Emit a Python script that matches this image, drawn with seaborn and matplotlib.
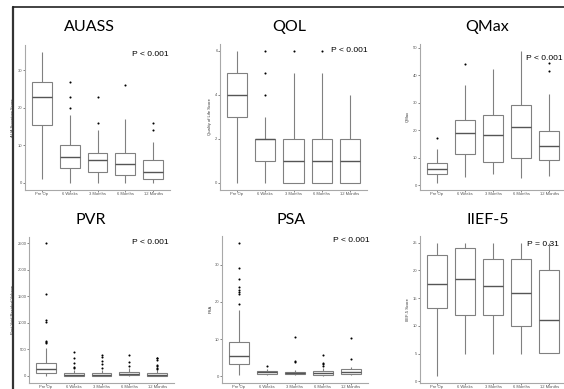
import numpy as np
import pandas as pd
import matplotlib
matplotlib.use("Agg")
import matplotlib.pyplot as plt
from matplotlib.lines import Line2D
import seaborn as sns

groups = ["Pre Op", "6 Weeks", "3 Months", "6 Months", "12 Months"]

# AUASS
auass_lo = [1, 0, 0, 0, 0]
auass_q1 = [15.5, 4, 3, 2, 1]
auass_med = [23, 7, 6, 5, 3]
auass_q3 = [27, 10, 8, 8, 6]
auass_hi = [35, 18, 14, 17, 11]
auass_out = [[], [20, 23, 27], [16, 23], [26], [14, 16]]

# QOL
qol_lo = [0, 0, 0, 0, 0]
qol_q1 = [3, 1, 0, 0, 0]
qol_med = [4, 2, 1, 1, 1]
qol_q3 = [5, 2, 2, 2, 2]
qol_hi = [6, 3, 5, 5, 4]
qol_out = [[], [4, 5, 6], [6], [6], []]

# QMax
qmax_lo = [0.8, 2.8, 3.9, 2.4, 3.3]
qmax_q1 = [4, 11.2, 8.5, 10, 9.1]
qmax_med = [6, 18.8, 18.2, 21, 14.2]
qmax_q3 = [8, 23.6, 25.7, 29.1, 19.8]
qmax_hi = [13.3, 36.4, 42.4, 49, 33.1]
qmax_out = [[17], [44], [], [], [41.6, 44.5]]

# PVR
pvr_lo = [0, 0, 0, 0, 0]
pvr_q1 = [56, 5, 5, 10, 5]
pvr_med = [124, 20, 15, 30, 15]
pvr_q3 = [250, 50, 45, 70, 45]
pvr_hi = [520, 110, 105, 150, 105]
pvr_out = [[620, 640, 660, 1020, 1060, 1550, 2500],
           [140, 175, 250, 330, 455],
           [140, 215, 280, 355, 395],
           [185, 265, 400],
           [120, 150, 180, 200, 300, 330, 340]]

# PSA
psa_lo = [0.4, 0.4, 0.2, 0.1, 0.3]
psa_q1 = [3.3, 0.7, 0.5, 0.4, 0.6]
psa_med = [5.4, 1.0, 0.8, 0.8, 1.1]
psa_q3 = [9.2, 1.4, 1.1, 1.3, 1.9]
psa_hi = [17.8, 2.0, 1.8, 2.2, 2.5]
psa_out = [[19.3, 22.1, 22.7, 23.3, 24.1, 26, 29.1, 35.9],
           [2.7], [3.7, 4.0, 10.6], [2.7, 3.2, 3.5, 5.8], [4.6, 10.4]]

# IIEF-5
iief_lo = [1, 5, 5, 5, 5.2]
iief_q1 = [13.3, 12, 12, 10, 5.2]
iief_med = [17.6, 18.5, 17.1, 16, 11]
iief_q3 = [22.8, 24, 22, 22, 20]
iief_hi = [25, 25, 25, 25, 25]
iief_out = [[], [], [], [], []]

titles = ["AUASS", "QOL", "QMax", "PVR", "PSA", "IIEF-5"]
ylabels = ["AUA Symptom Score", "Quality of Life Score", "QMax",
           "Post Void Residual Volume", "PSA", "IIEF-5 Score"]
pvals = ["P < 0.001", "P < 0.001", "P < 0.001", "P < 0.001", "P < 0.001", "P = 0.31"]
yticks = [[0, 10, 20, 30], [0, 2, 4, 6], [0, 10, 20, 30, 40, 50],
          [0, 500, 1000, 1500, 2000, 2500], [0, 10, 20, 30], [0, 5, 10, 15, 20, 25]]


def sample_from_summary(lo, q1, med, q3, hi, out):
    """Ordered values whose quartiles/whiskers/outliers reproduce the read summary."""
    k = max(2, len(out) + 1)
    vals = [lo] + [q1] * (k - 1) + [q1] + [med] * (k - 1) + [med] + \
           [q3] * (k - 1) + [q3] + [q3] * (k - 1 - len(out)) + [hi] + sorted(out)
    return vals


def long_frame(lo, q1, med, q3, hi, out):
    rows = []
    for g, a, b, c, d, e, f in zip(groups, lo, q1, med, q3, hi, out):
        for v in sample_from_summary(a, b, c, d, e, f):
            rows.append((g, v))
    return pd.DataFrame(rows, columns=["group", "value"])


panels = [
    (auass_lo, auass_q1, auass_med, auass_q3, auass_hi, auass_out),
    (qol_lo, qol_q1, qol_med, qol_q3, qol_hi, qol_out),
    (qmax_lo, qmax_q1, qmax_med, qmax_q3, qmax_hi, qmax_out),
    (pvr_lo, pvr_q1, pvr_med, pvr_q3, pvr_hi, pvr_out),
    (psa_lo, psa_q1, psa_med, psa_q3, psa_hi, psa_out),
    (iief_lo, iief_q1, iief_med, iief_q3, iief_hi, iief_out),
]

sns.set_style("ticks")
plt.rcParams["font.family"] = ["Liberation Sans", "DejaVu Sans"]

W, H = 564, 389
fig = plt.figure(figsize=(W / 100, H / 100), dpi=100)
fig.patch.set_facecolor("white")

# axes boxes in pixels: x0, x1, ytop, ybottom
boxes = [(25, 170, 45, 189.5), (220, 367, 44, 189.5), (420, 566, 44, 189.5),
         (29, 174, 236.5, 382.5), (222, 367.5, 236, 382.5), (420, 566, 236, 382.5)]
title_pos = [(89, 27), (289, 27), (487, 27), (91, 220), (291, 220), (488, 220)]
pval_pos = [(132, 54), (331, 50.5), (526, 58), (132, 242.5), (333, 241), (527, 244.5)]

line_c = "#808080"
spine_c = "#a8a8a8"

for i, (stats, box) in enumerate(zip(panels, boxes)):
    x0, x1, yt, yb = box
    ax = fig.add_axes([x0 / W, 1 - yb / H, (x1 - x0) / W, (yb - yt) / H])
    df = long_frame(*stats)
    sns.boxplot(data=df, x="group", y="value", order=groups, ax=ax,
                color="white", linecolor=line_c, linewidth=0.8, width=0.71,
                showcaps=False, whis=1.5,
                medianprops=dict(color="#555555", linewidth=1.0),
                flierprops=dict(marker="o", markersize=1.5, markerfacecolor="black",
                                markeredgecolor="black", markeredgewidth=0))
    lo, q1, med, q3, hi, out = stats
    allv = list(lo) + list(hi) + [v for o in out for v in o]
    vmin, vmax = min(allv), max(allv)
    pad = 0.05 * (vmax - vmin)
    ax.set_ylim(vmin - pad, vmax + pad)
    ax.set_xlim(-0.6, 4.6)
    ax.set_yticks(yticks[i])
    ax.set_xlabel("")
    ax.set_ylabel(ylabels[i], fontsize=3, color="#333333", labelpad=2)
    ax.tick_params(axis="both", labelsize=3, length=1.2, width=0.5,
                   colors="#555555", pad=0.6)
    for s in ["top", "right"]:
        ax.spines[s].set_visible(False)
    for s in ["left", "bottom"]:
        ax.spines[s].set_color(spine_c)
        ax.spines[s].set_linewidth(0.8)
    ax.set_facecolor("white")

    tx, ty = title_pos[i]
    fig.text(tx / W, 1 - ty / H, titles[i], ha="center", va="center",
             fontsize=11.5, family=["Lato", "DejaVu Sans"], color="black")
    px, py = pval_pos[i]
    fig.text(px / W, 1 - py / H, pvals[i], ha="left", va="center",
             fontsize=6.1, color="black")

# slide border lines
fig.add_artist(Line2D([12.5 / W, 12.5 / W], [0, 1 - 7 / H], color="#333333",
                      linewidth=1.6, transform=fig.transFigure))
fig.add_artist(Line2D([12.5 / W, 1], [1 - 7 / H, 1 - 7 / H], color="#222222",
                      linewidth=1.2, transform=fig.transFigure))

fig.savefig("out.png", dpi=100)
